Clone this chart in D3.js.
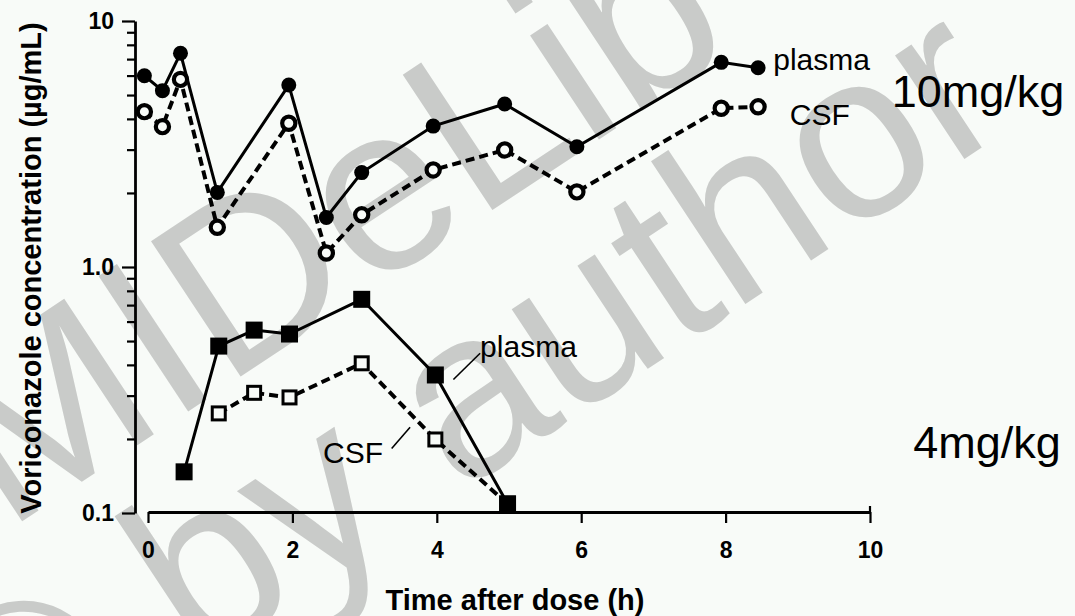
<!DOCTYPE html>
<html><head><meta charset="utf-8">
<script src="https://cdn.jsdelivr.net/npm/d3@7"></script>
<style>html,body{margin:0;padding:0;background:#f8fbf8;} svg{display:block}</style>
</head><body>
<svg id="chart" width="1075" height="616"></svg>
<script>
// ---- data ----
const timesHigh  = [-0.05, 0.2, 0.45, 0.96, 1.95, 2.47, 2.96, 3.95, 4.94, 5.94, 7.94, 8.45];
const plasmaHigh = [5.99, 5.21, 7.39, 2.01, 5.49, 1.59, 2.42, 3.74, 4.60, 3.08, 6.79, 6.46];
const csfHigh    = [4.28, 3.72, 5.79, 1.45, 3.84, 1.14, 1.63, 2.48, 2.99, 2.02, 4.42, 4.48];
const timesLow   = [0.5, 0.98, 1.47, 1.96, 2.96, 3.98, 4.98];
const plasmaLow  = [0.147, 0.477, 0.554, 0.534, 0.739, 0.364, 0.109];
const timesCsfLow = [0.98, 1.47, 1.96, 2.96, 3.98, 4.98];
const csfLow     = [0.254, 0.308, 0.295, 0.406, 0.199, 0.109];
const xTicks = [0, 2, 4, 6, 8, 10];
const yMajorTicks = [0.1, 1, 10];
const yMajorLabels = ["0.1", "1.0", "10"];
const yMinorTicks = [0.2, 0.3, 0.4, 0.5, 0.6, 0.7, 0.8, 0.9, 2, 3, 4, 5, 6, 7, 8, 9];
const xTitle = "Time after dose (h)";
const yTitle = "Voriconazole concentration (\u00b5g/mL)";
const watermarkLines = ["MIDeLib", "\u00a9 by author"];

const FONT = "'Liberation Sans', Arial, Helvetica, sans-serif";
const BG = "#f8fbf8";
const svg = d3.select("#chart");
svg.append("rect").attr("width", 1075).attr("height", 616).attr("fill", BG);

// watermark (under chart)
const wm = svg.append("g").attr("fill", "#c9cbc9").attr("font-family", FONT).attr("font-size", 236);
wm.append("text").attr("transform", "translate(6,532) rotate(-33.5)").text(watermarkLines[0]);
wm.append("text").attr("transform", "translate(-4,800) rotate(-33.5)").text(watermarkLines[1]);

const x = d3.scaleLinear().domain([0, 10]).range([148, 870]);
const y = d3.scaleLog().domain([0.1, 10]).range([513, 21]);

// y axis
const yAxisG = svg.append("g").attr("transform", "translate(135,0)");
yAxisG.call(d3.axisLeft(y).tickValues(yMinorTicks).tickSize(8).tickSizeOuter(0).tickFormat(""));
yAxisG.selectAll(".domain").remove();
const yMaj = svg.append("g").attr("transform", "translate(135,0)")
  .call(d3.axisLeft(y).tickValues(yMajorTicks).tickSize(13).tickSizeOuter(0).tickPadding(8)
        .tickFormat((d, i) => yMajorLabels[i]));
[yAxisG, yMaj].forEach(g => {
  g.selectAll("line").attr("stroke", "#000").attr("stroke-width", 2.2);
  g.selectAll(".domain").attr("stroke", "#000").attr("stroke-width", 2.8);
});
yMaj.selectAll("text").attr("font-family", FONT).attr("font-weight", "bold")
  .attr("font-size", 23).attr("fill", "#000");

// x axis
const xAxisG = svg.append("g").attr("transform", "translate(0,512)")
  .call(d3.axisBottom(x).tickValues(xTicks).tickSize(11).tickSizeOuter(0).tickPadding(19));
xAxisG.selectAll("line").attr("stroke", "#000").attr("stroke-width", 2.2);
xAxisG.selectAll(".domain").attr("stroke", "#000").attr("stroke-width", 2.8);
xAxisG.selectAll("text").attr("font-family", FONT).attr("font-weight", "bold")
  .attr("font-size", 23).attr("fill", "#000");
xAxisG.append("line").attr("x1", x(10)).attr("x2", x(10)).attr("y1", 0).attr("y2", -6)
  .attr("stroke", "#000").attr("stroke-width", 2.2);

// titles
svg.append("text").attr("x", 515).attr("y", 610).attr("text-anchor", "middle")
  .attr("font-family", FONT).attr("font-weight", "bold").attr("font-size", 29).text(xTitle);
svg.append("text").attr("transform", "translate(41,268) rotate(-90)").attr("text-anchor", "middle")
  .attr("font-family", FONT).attr("font-weight", "bold").attr("font-size", 29).text(yTitle);

// lines
const line = d3.line().x(d => x(d[0])).y(d => y(d[1]));
const zipd = (t, v) => t.map((ti, i) => [ti, v[i]]);
const dHighP = zipd(timesHigh, plasmaHigh), dHighC = zipd(timesHigh, csfHigh);
const dLowP = zipd(timesLow, plasmaLow), dLowC = zipd(timesCsfLow, csfLow);

svg.append("path").attr("d", line(dHighC)).attr("fill", "none").attr("stroke", "#000")
  .attr("stroke-width", 4).attr("stroke-dasharray", "9,5");
svg.append("path").attr("d", line(dHighP)).attr("fill", "none").attr("stroke", "#000").attr("stroke-width", 3);
svg.append("path").attr("d", line(dLowC)).attr("fill", "none").attr("stroke", "#000")
  .attr("stroke-width", 4).attr("stroke-dasharray", "9,5");
svg.append("path").attr("d", line(dLowP)).attr("fill", "none").attr("stroke", "#000").attr("stroke-width", 3);

// markers
svg.append("g").selectAll("circle").data(dHighC).join("circle")
  .attr("cx", d => x(d[0])).attr("cy", d => y(d[1])).attr("r", 6.6)
  .attr("fill", BG).attr("stroke", "#000").attr("stroke-width", 4.2);
svg.append("g").selectAll("circle").data(dHighP).join("circle")
  .attr("cx", d => x(d[0])).attr("cy", d => y(d[1])).attr("r", 7.5).attr("fill", "#000");
svg.append("g").selectAll("rect").data(dLowC).join("rect")
  .attr("x", d => x(d[0]) - 6.5).attr("y", d => y(d[1]) - 6.5).attr("width", 13).attr("height", 13)
  .attr("fill", BG).attr("stroke", "#000").attr("stroke-width", 3);
svg.append("g").selectAll("rect").data(dLowP).join("rect")
  .attr("x", d => x(d[0]) - 8.5).attr("y", d => y(d[1]) - 8.5).attr("width", 17).attr("height", 17)
  .attr("fill", "#000");

// annotations (positions in data coordinates)
const lbl = (t, v, txt, size) => svg.append("text").attr("x", x(t)).attr("y", y(v))
  .attr("font-family", FONT).attr("font-size", size).attr("fill", "#000").text(txt);
lbl(8.66, 6.32, "plasma", 30);
lbl(8.89, 3.78, "CSF", 30);
lbl(10.3, 4.47, "10mg/kg", 45);
lbl(10.6, 0.1674, "4mg/kg", 45);
lbl(4.6, 0.431, "plasma", 30);
lbl(2.424, 0.1598, "CSF", 30);
const leader = (t1, v1, t2, v2) => svg.append("line")
  .attr("x1", x(t1)).attr("y1", y(v1)).attr("x2", x(t2)).attr("y2", y(v2))
  .attr("stroke", "#000").attr("stroke-width", 1.6);
leader(4.23, 0.349, 4.6, 0.446);
leader(3.375, 0.183, 3.63, 0.223);
</script>
</body></html>
